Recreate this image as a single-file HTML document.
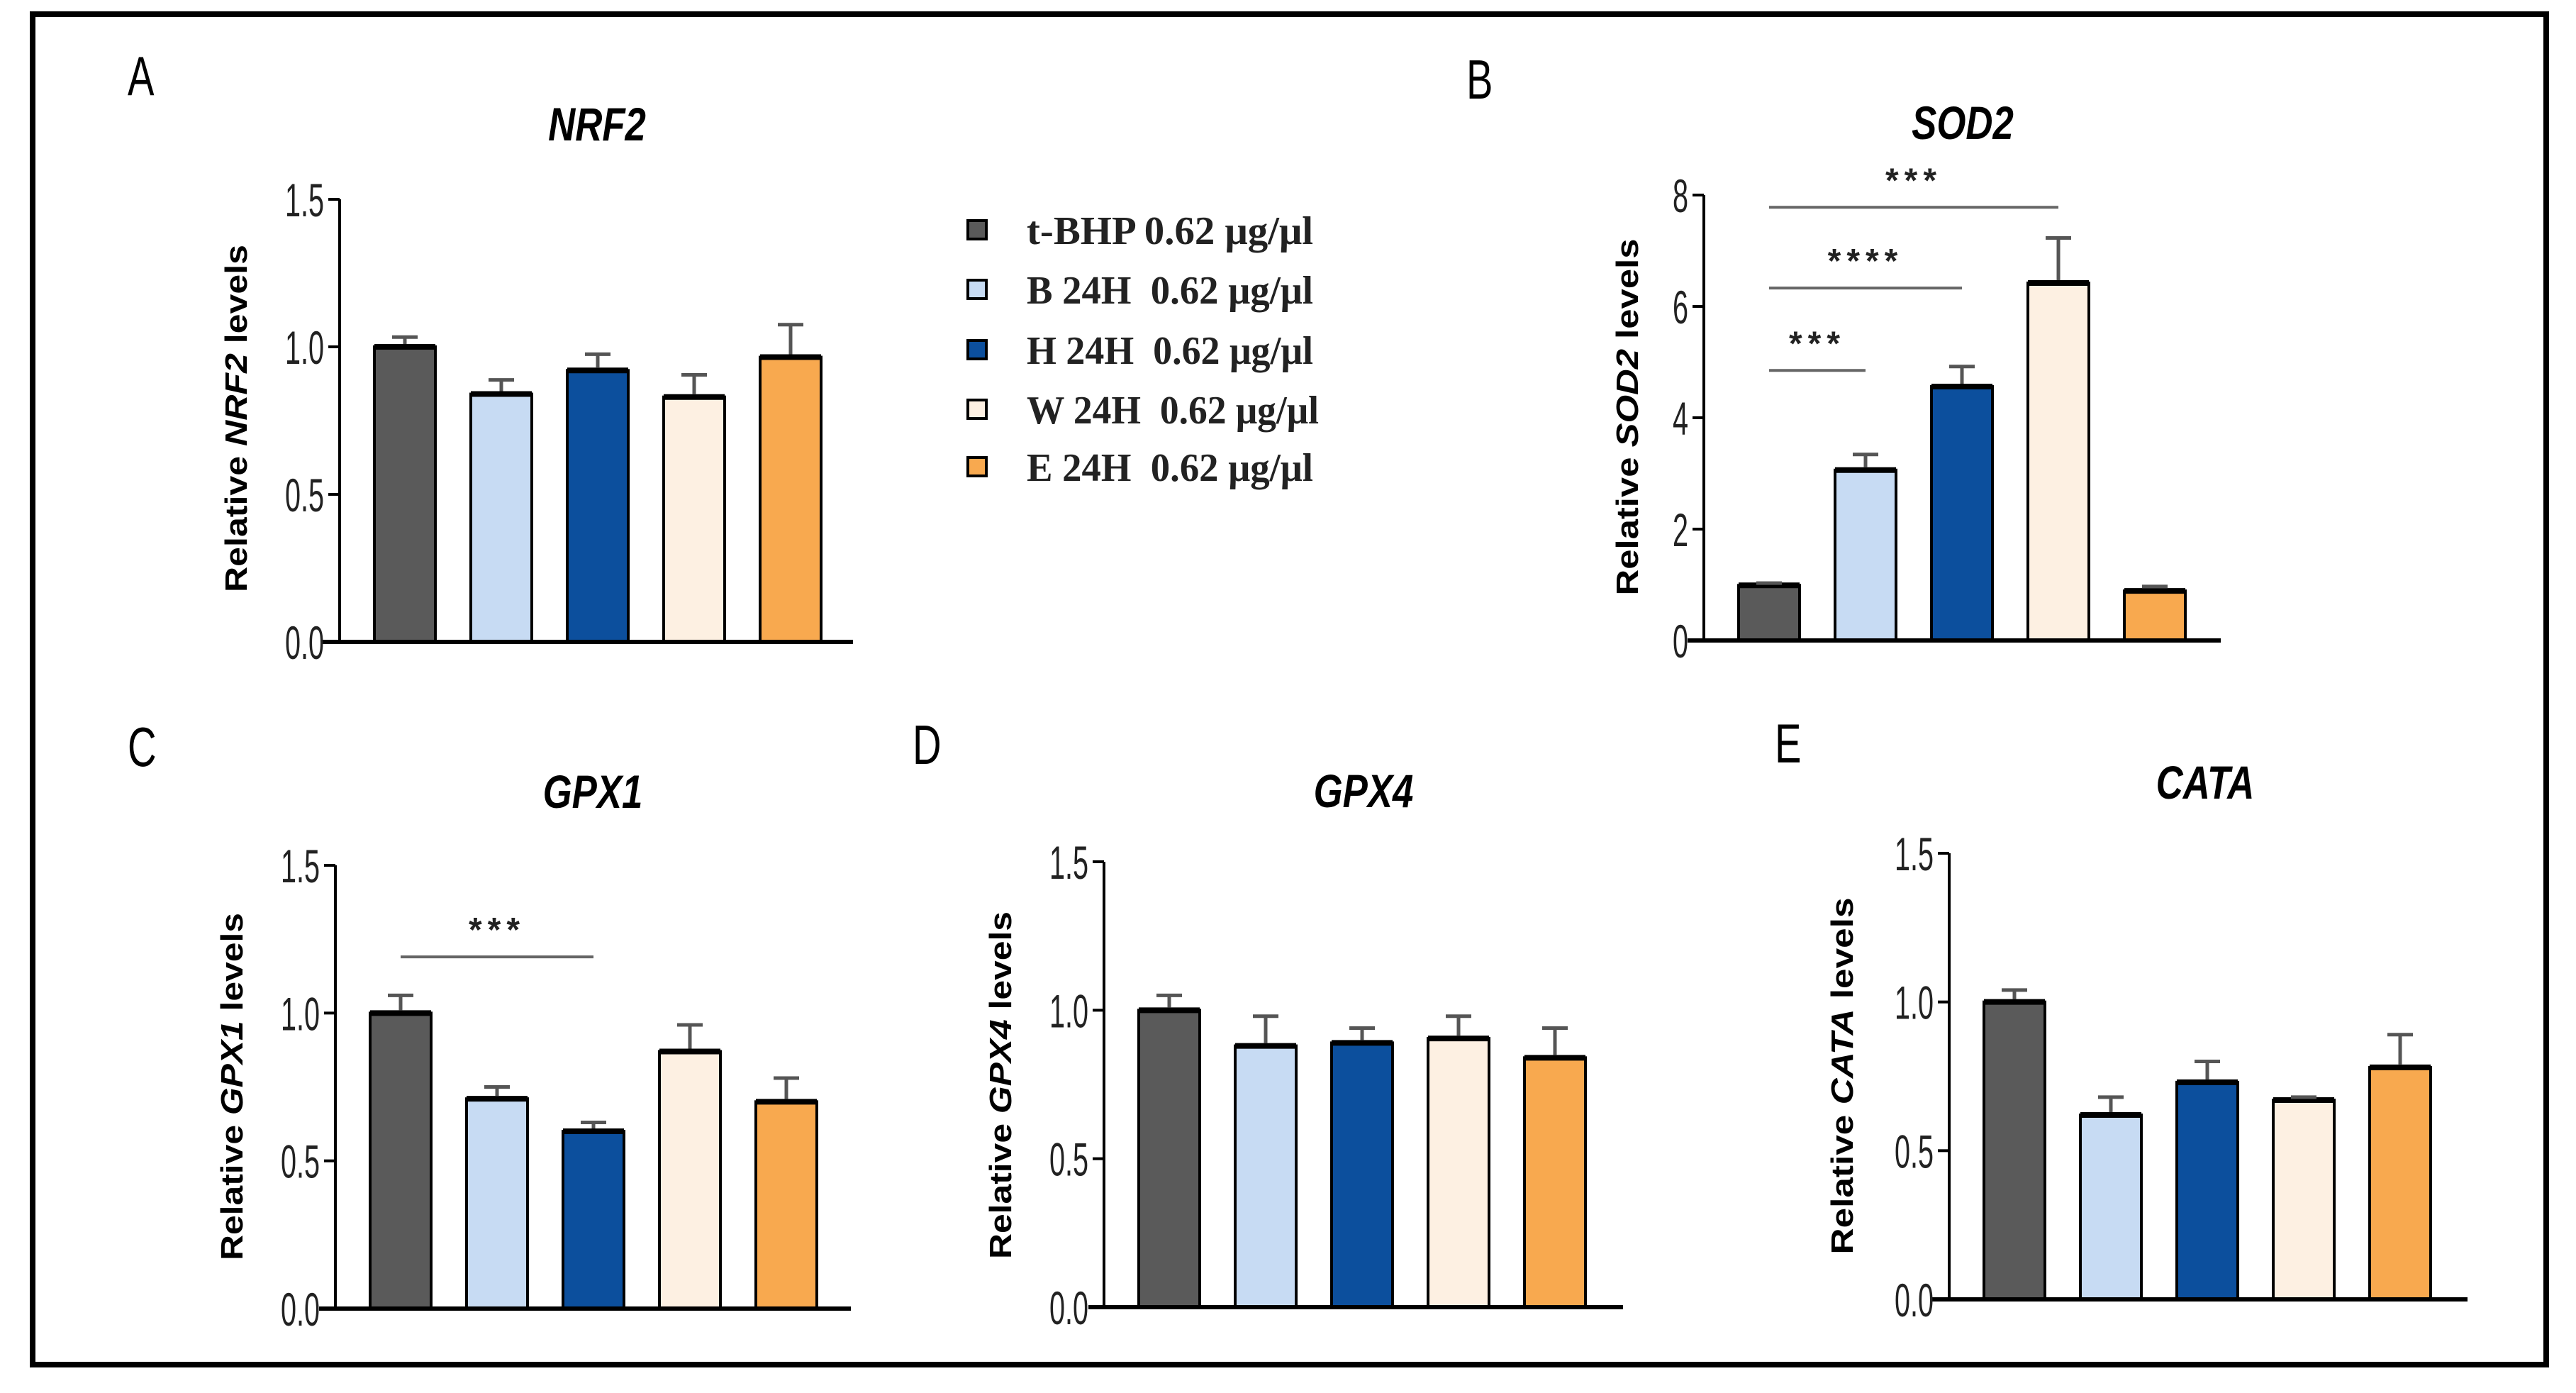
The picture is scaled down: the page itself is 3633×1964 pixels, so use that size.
<!DOCTYPE html>
<html><head><meta charset="utf-8"><style>
html,body{margin:0;padding:0;background:#fff}
svg{display:block}
#legend text{white-space:pre}
</style></head><body>
<svg id="fig" width="3633" height="1964" viewBox="0 0 3633 1964" xmlns="http://www.w3.org/2000/svg">
<rect x="46" y="20" width="3545" height="1904" fill="#fff" stroke="#000" stroke-width="8"/>
<g id="legend"></g>
</svg>
<script>
const categories = ["t-BHP 0.62 μg/μl","B 24H  0.62 μg/μl","H 24H  0.62 μg/μl","W 24H  0.62 μg/μl","E 24H  0.62 μg/μl"];
const colors = ["#5a5a5a","#c7dbf3","#0c4f9d","#fdf0e2","#f8a94f"];
const nrf2Values = [1.0,0.84,0.92,0.83,0.965];
const nrf2Errors = [0.033,0.048,0.055,0.075,0.11];
const sod2Values = [0.99,3.06,4.56,6.42,0.89];
const sod2Errors = [0.04,0.28,0.36,0.81,0.08];
const gpx1Values = [1.0,0.71,0.60,0.87,0.70];
const gpx1Errors = [0.06,0.04,0.03,0.09,0.08];
const gpx4Values = [1.0,0.88,0.89,0.905,0.84];
const gpx4Errors = [0.05,0.10,0.05,0.075,0.10];
const cataValues = [1.0,0.62,0.73,0.67,0.78];
const cataErrors = [0.04,0.06,0.07,0.01,0.11];
const sigSOD2 = [[0,1,4.85,"***"],[0,2,6.33,"****"],[0,3,7.78,"***"]];
const sigGPX1 = [[0,2,1.19,"***"]];
const ticks15 = ["0.0","0.5","1.0","1.5"];
const ticks8 = ["0","2","4","6","8"];

const svg = document.getElementById('fig');
const NS = "http://www.w3.org/2000/svg";
function mk(tag, attrs, parent){
  const e = document.createElementNS(NS, tag);
  for (const k in attrs) e.setAttribute(k, attrs[k]);
  (parent||svg).appendChild(e);
  return e;
}

const panels = [
 {id:"nrf2", letter:"A", lx:180, ly:134, title:"NRF2", tx:842, ty:198, axX:479, top:281, bot:905, max:1.5, ticks:ticks15, xs:454, xe:1203, labX:348, labY:590, labLen:490, vals:nrf2Values, errs:nrf2Errors, sig:[]},
 {id:"sod2", letter:"B", lx:2068, ly:139, title:"SOD2", tx:2768, ty:196, axX:2403, top:275, bot:903, max:8, ticks:ticks8, xs:2380, xe:3132, labX:2310, labY:588, labLen:503, vals:sod2Values, errs:sod2Errors, sig:sigSOD2},
 {id:"gpx1", letter:"C", lx:180, ly:1080, title:"GPX1", tx:836, ty:1139, axX:473, top:1220, bot:1845, max:1.5, ticks:ticks15, xs:450, xe:1200, labX:342, labY:1532, labLen:490, vals:gpx1Values, errs:gpx1Errors, sig:[sigGPX1[0]]},
 {id:"gpx4", letter:"D", lx:1287, ly:1077, title:"GPX4", tx:1923, ty:1138, axX:1557, top:1215, bot:1843, max:1.5, ticks:ticks15, xs:1535, xe:2289, labX:1426, labY:1530, labLen:490, vals:gpx4Values, errs:gpx4Errors, sig:[]},
 {id:"cata", letter:"E", lx:2503, ly:1075, title:"CATA", tx:3110, ty:1126, axX:2749, top:1203, bot:1832, max:1.5, ticks:ticks15, xs:2723, xe:3480, labX:2613, labY:1517, labLen:503, vals:cataValues, errs:cataErrors, sig:[]}
];

panels.forEach(p => {
  const g = mk('g', {});
  
  
  const yS = v => p.bot - v/p.max*(p.bot-p.top);
  const xC = i => p.axX + 92 + i*136;

  const L = mk('text', {x:p.lx, y:p.ly, 'font-family':'Liberation Sans, sans-serif', 'font-size':78, transform:`translate(${p.lx},0) scale(0.72,1) translate(${-p.lx},0)`}, g);
  
  
  L.textContent = p.letter;

  const T = mk('text', {x:0, y:0, 'text-anchor':'middle', 'font-family':'Liberation Sans, sans-serif', 'font-size':66, 'font-weight':'bold', 'font-style':'italic', transform:`translate(${p.tx},${p.ty}) scale(0.8,1)`}, g);
  
  
  T.textContent = p.title;

  const Y = mk('text', {x:0, y:0, 'text-anchor':'middle', 'font-family':'Liberation Sans, sans-serif', 'font-size':44, 'font-weight':'bold', textLength:p.labLen, lengthAdjust:'spacingAndGlyphs', transform:`translate(${p.labX},${p.labY}) rotate(-90)`}, g);
  
  
  const t1 = mk('tspan', {}, Y); t1.textContent = 'Relative ';
  const t2 = mk('tspan', {'font-style':'italic'}, Y); t2.textContent = p.title;
  const t3 = mk('tspan', {}, Y); t3.textContent = ' levels';

  p.vals.forEach((v, i) => {
    const x = xC(i) - 43, y = yS(v);
    const b = mk('rect', {x:x, y:y, width:86, height:p.bot - y, fill:colors[i], stroke:'#000', 'stroke-width':4}, g);
    
    
    mk('line', {x1:x, x2:x+86, y1:y, y2:y, stroke:'#000', 'stroke-width':8}, g);
    const ey = yS(v + p.errs[i]);
    const e = mk('path', {d:`M${xC(i)},${y-4}V${ey}M${xC(i)-18},${ey}H${xC(i)+18}`, stroke:'#555', 'stroke-width':5, fill:'none'}, g);
    
    
  });

  const ya = mk('line', {x1:p.axX, x2:p.axX, y1:p.top, y2:p.bot, stroke:'#000', 'stroke-width':4}, g);
  
  
  const xa = mk('line', {x1:p.xs, x2:p.xe, y1:p.bot, y2:p.bot, stroke:'#000', 'stroke-width':6}, g);
  
  
  p.ticks.forEach(t => {
    const y = yS(parseFloat(t));
    mk('line', {x1:p.axX-16, x2:p.axX, y1:y, y2:y, stroke:'#000', 'stroke-width':4}, g);
    const tx = p.axX - 22;
    const tl = mk('text', {x:tx, y:y+24, 'text-anchor':'end', 'font-family':'Liberation Sans, sans-serif', 'font-size':66, fill:'#222', transform:`translate(${tx},0) scale(0.6,1) translate(${-tx},0)`}, g);
    
    
    tl.textContent = t;
  });

  p.sig.forEach(s => {
    const y = yS(s[2]);
    const sl = mk('line', {x1:xC(s[0]), x2:xC(s[1]), y1:y, y2:y, stroke:'#666', 'stroke-width':4}, g);
    
    
    const st = mk('text', {x:(xC(s[0])+xC(s[1]))/2, y:y-22, 'text-anchor':'middle', 'font-family':'Liberation Sans, sans-serif', 'font-size':48, 'font-weight':'bold', 'letter-spacing':8, fill:'#222'}, g);
    
    
    st.textContent = s[3];
  });
});

const lg = document.getElementById('legend');
const legY = [325,409,494,578,659];
categories.forEach((c, i) => {
  const r = mk('rect', {x:1365, y:legY[i]-14, width:26, height:26, fill:colors[i], stroke:'#000', 'stroke-width':4}, lg);
  
  
  const t = mk('text', {x:1448, y:legY[i]+19, 'font-family':'Liberation Serif, serif', 'font-size':56, 'font-weight':'bold', fill:'#222', textLength: i===0?404:(i===3?412:404), lengthAdjust:'spacingAndGlyphs'}, lg);
  
  
  t.textContent = c;
});
</script>
</body></html>
